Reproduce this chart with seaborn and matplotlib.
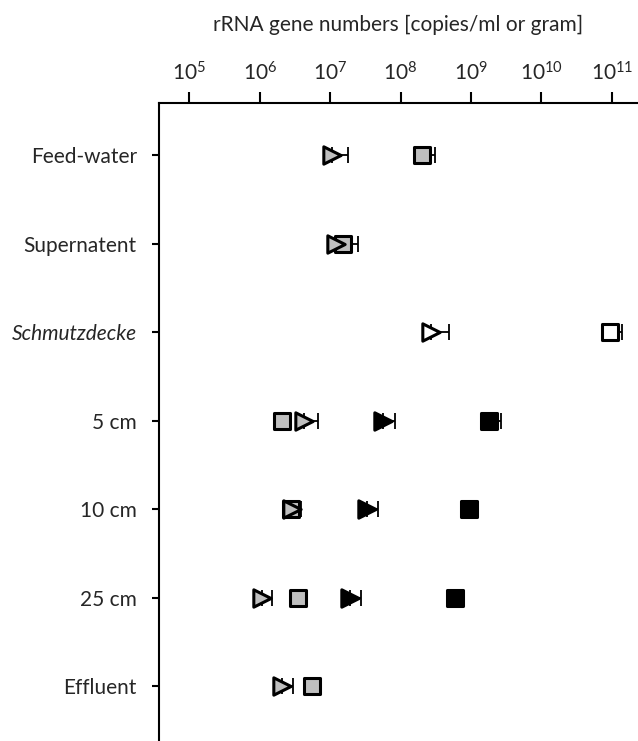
import numpy as np
import pandas as pd
import matplotlib
matplotlib.use("Agg")
import matplotlib.pyplot as plt
import seaborn as sns

# categories (top to bottom)
categories = ["Feed-water", "Supernatent", "Schmutzdecke", "5 cm", "10 cm", "25 cm", "Effluent"]

# triangles (one gene target), squares (other gene target); gray = water, white = schmutzdecke, black = sand
tri_gray_cat = ["Feed-water", "Supernatent", "5 cm", "10 cm", "25 cm", "Effluent"]
tri_gray_val = [1.05e7, 1.2e7, 4.3e6, 2.9e6, 1.07e6, 2.1e6]
tri_gray_hi = [1.8e7, 1.6e7, 6.7e6, 3.3e6, 1.48e6, 2.95e6]

sq_gray_cat = ["Feed-water", "Supernatent", "5 cm", "10 cm", "25 cm", "Effluent"]
sq_gray_val = [2.0e8, 1.5e7, 2.1e6, 2.75e6, 3.5e6, 5.6e6]
sq_gray_hi = [3.05e8, 2.45e7, 2.75e6, 3.9e6, 3.9e6, 6.2e6]

tri_white_cat = ["Schmutzdecke"]
tri_white_val = [2.7e8]
tri_white_hi = [4.8e8]

sq_white_cat = ["Schmutzdecke"]
sq_white_val = [9.5e10]
sq_white_hi = [1.38e11]

tri_black_cat = ["5 cm", "10 cm", "25 cm"]
tri_black_val = [5.6e7, 3.3e7, 1.9e7]
tri_black_hi = [8.3e7, 4.8e7, 2.7e7]

sq_black_cat = ["5 cm", "10 cm", "25 cm"]
sq_black_val = [1.8e9, 9.4e8, 5.9e8]
sq_black_hi = [2.65e9, 1.0e9, 6.2e8]

x_ticks = [1e5, 1e6, 1e7, 1e8, 1e9, 1e10, 1e11]
x_ticklabels = [r"$\mathregular{10^{%d}}$" % p for p in range(5, 12)]

sns.set_style("ticks")
plt.rcParams["font.family"] = ["Lato", "DejaVu Sans"]
plt.rcParams["mathtext.fontset"] = "custom"
plt.rcParams["mathtext.rm"] = "Lato"

fig = plt.figure(figsize=(6.38, 7.41), dpi=100)
ax = fig.add_axes([159 / 638, 0, 1 - 159 / 638, 1 - 103 / 741])

ypos = {c: i for i, c in enumerate(categories)}

series = [
    (sq_gray_cat, sq_gray_val, sq_gray_hi, "s", "#bfbfbf", 11.5),
    (sq_white_cat, sq_white_val, sq_white_hi, "s", "white", 11.5),
    (sq_black_cat, sq_black_val, sq_black_hi, "s", "black", 11.5),
    (tri_gray_cat, tri_gray_val, tri_gray_hi, ">", "#bfbfbf", 12.5),
    (tri_white_cat, tri_white_val, tri_white_hi, ">", "white", 12.5),
    (tri_black_cat, tri_black_val, tri_black_hi, ">", "black", 12.5),
]

for cats, vals, his, marker, color, ms in series:
    y = [ypos[c] for c in cats]
    vals = np.array(vals)
    upper = np.array(his) - vals
    ax.errorbar(vals, y, xerr=[np.zeros_like(vals), upper], fmt="none",
                ecolor="black", elinewidth=1.3, capsize=6, capthick=1.3, zorder=2)
    df = pd.DataFrame({"x": vals, "y": y})
    sns.scatterplot(data=df, x="x", y="y", marker=marker, s=ms ** 2, color=color,
                    edgecolor="black", linewidth=2.2, ax=ax, zorder=4, legend=False)

ax.set_xscale("log")
ax.set_xlim(10 ** 4.57, 10 ** 11.37)
ax.set_ylim(6.62, -0.59)
ax.set_xticks(x_ticks)
ax.set_xticklabels(x_ticklabels)
ax.minorticks_off()
ax.set_yticks(range(len(categories)))
ax.set_yticklabels(categories)
for lab in ax.get_yticklabels():
    if lab.get_text() == "Schmutzdecke":
        lab.set_style("italic")

ax.xaxis.tick_top()
ax.xaxis.set_label_position("top")
ax.set_xlabel("rRNA gene numbers [copies/ml or gram]", fontsize=15, labelpad=22)
ax.set_ylabel("")
ax.tick_params(axis="x", length=8, width=1.5, pad=5, labelsize=15, color="black")
ax.tick_params(axis="y", length=5, width=1.5, pad=11, labelsize=15, color="black")

for side in ["right", "bottom"]:
    ax.spines[side].set_visible(False)
for side in ["top", "left"]:
    ax.spines[side].set_linewidth(1.5)
    ax.spines[side].set_color("black")

fig.savefig("out.png", dpi=100)
